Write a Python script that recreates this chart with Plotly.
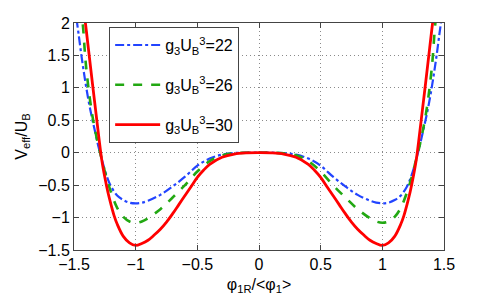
import plotly.graph_objects as go

# g3*UB^3 = 22 (blue dash-dot)
x22 = [-1.48, -1.46, -1.44, -1.42, -1.40, -1.375, -1.35, -1.325, -1.30, -1.275, -1.25, -1.225, -1.20, -1.15, -1.10, -1.05, -1.00,
       -0.95, -0.90, -0.80, -0.70, -0.60, -0.50, -0.40, -0.30, -0.20, -0.10, 0.00,
       0.10, 0.20, 0.30, 0.40, 0.50, 0.60, 0.70, 0.80, 0.90, 0.95,
       1.00, 1.05, 1.10, 1.15, 1.20, 1.225, 1.25, 1.275, 1.30, 1.325, 1.35, 1.375, 1.40, 1.42, 1.44, 1.46, 1.48]
y22 = [2.07, 1.79, 1.50, 1.24, 1.00, 0.73, 0.50, 0.29, 0.08, -0.10, -0.27, -0.41, -0.52, -0.66, -0.73, -0.77, -0.78,
       -0.77, -0.74, -0.65, -0.52, -0.37, -0.20, -0.09, -0.03, -0.005, 0.0, 0.0,
       0.0, -0.005, -0.03, -0.09, -0.20, -0.37, -0.52, -0.65, -0.74, -0.77,
       -0.78, -0.77, -0.73, -0.66, -0.52, -0.41, -0.27, -0.10, 0.08, 0.29, 0.50, 0.73, 1.00, 1.24, 1.50, 1.79, 2.07]

# g3*UB^3 = 26 (green dashed)
x26 = [-1.45, -1.43, -1.41, -1.40, -1.375, -1.35, -1.325, -1.30, -1.275, -1.25, -1.225, -1.20, -1.15, -1.10, -1.05, -1.00,
       -0.95, -0.90, -0.80, -0.70, -0.60, -0.50, -0.40, -0.30, -0.20, -0.10, 0.00,
       0.10, 0.20, 0.30, 0.40, 0.50, 0.60, 0.70, 0.80, 0.90, 0.95,
       1.00, 1.05, 1.10, 1.15, 1.20, 1.225, 1.25, 1.275, 1.30, 1.325, 1.35, 1.375, 1.40, 1.41, 1.43, 1.45]
y26 = [2.25, 2.00, 1.50, 1.29, 0.88, 0.56, 0.31, 0.09, -0.10, -0.29, -0.46, -0.61, -0.85, -0.99, -1.06, -1.08,
       -1.06, -1.01, -0.87, -0.69, -0.50, -0.29, -0.13, -0.04, -0.01, 0.0, 0.0,
       0.0, -0.01, -0.04, -0.13, -0.29, -0.50, -0.69, -0.87, -1.01, -1.06,
       -1.08, -1.06, -0.99, -0.85, -0.61, -0.46, -0.29, -0.10, 0.09, 0.31, 0.56, 0.88, 1.29, 1.50, 2.00, 2.25]

# g3*UB^3 = 30 (red solid)
x30 = [-1.42, -1.40, -1.375, -1.35, -1.325, -1.30, -1.275, -1.25, -1.225, -1.20, -1.175, -1.15, -1.10, -1.05, -1.00,
       -0.95, -0.90, -0.85, -0.80, -0.75, -0.70, -0.65, -0.60, -0.55, -0.50, -0.45, -0.40, -0.30, -0.20, -0.10, 0.00,
       0.10, 0.20, 0.30, 0.40, 0.45, 0.50, 0.55, 0.60, 0.65, 0.70, 0.75, 0.80, 0.85, 0.90, 0.95,
       1.00, 1.05, 1.10, 1.15, 1.175, 1.20, 1.225, 1.25, 1.275, 1.30, 1.325, 1.35, 1.375, 1.40, 1.42]
y30 = [2.20, 1.88, 1.47, 1.06, 0.66, 0.26, -0.11, -0.38, -0.61, -0.80, -0.97, -1.10, -1.29, -1.39, -1.43,
       -1.40, -1.35, -1.27, -1.18, -1.07, -0.94, -0.80, -0.66, -0.52, -0.38, -0.27, -0.18, -0.07, -0.02, -0.003, 0.0,
       -0.003, -0.02, -0.07, -0.18, -0.27, -0.38, -0.52, -0.66, -0.80, -0.94, -1.07, -1.18, -1.27, -1.35, -1.40,
       -1.43, -1.39, -1.29, -1.10, -0.97, -0.80, -0.61, -0.38, -0.11, 0.26, 0.66, 1.06, 1.47, 1.88, 2.20]

names = ["g<sub>3</sub>U<sub>B</sub><sup>3</sup>=22",
         "g<sub>3</sub>U<sub>B</sub><sup>3</sup>=26",
         "g<sub>3</sub>U<sub>B</sub><sup>3</sup>=30"]
x_ticks = [-1.5, -1, -0.5, 0, 0.5, 1, 1.5]
x_tick_labels = ["\u22121.5", "\u22121", "\u22120.5", "0", "0.5", "1", "1.5"]
y_ticks = [-1.5, -1, -0.5, 0, 0.5, 1, 1.5, 2]
y_tick_labels = ["\u22121.5", "\u22121", "\u22120.5", "0", "0.5", "1", "1.5", "2"]

font = "Liberation Sans, Arial, sans-serif"

fig = go.Figure()
fig.add_trace(go.Scatter(x=x22, y=y22, mode="lines", name=names[0], legendgroup="a",
                         line=dict(color="#2244ff", width=2.2, dash="dashdot", shape="spline")))
fig.add_trace(go.Scatter(x=x26, y=y26, mode="lines", name=names[1], legendgroup="b",
                         line=dict(color="#22a812", width=2.6, dash="dash", shape="spline")))
fig.add_trace(go.Scatter(x=x30, y=y30, mode="lines", name=names[2], legendgroup="c",
                         line=dict(color="#ff0000", width=2.8, shape="spline")))

axis_common = dict(showline=True, linecolor="#444444", linewidth=1, mirror="ticks",
                   ticks="inside", ticklen=5, tickcolor="#444444",
                   showgrid=True, gridcolor="#8a8a8a", griddash="1px,3px", gridwidth=1,
                   zeroline=False, automargin=False,
                   tickfont=dict(family=font, size=16, color="black"))

fig.update_layout(
    width=491, height=304,
    margin=dict(l=74, r=47, t=23, b=54),
    paper_bgcolor="white", plot_bgcolor="white",
    font=dict(family=font, size=16, color="black"),
    xaxis=dict(range=[-1.5, 1.5], tickvals=x_ticks, ticktext=x_tick_labels,
               title=dict(text="\u03c6<sub>1R</sub>/&lt;\u03c6<sub>1</sub>&gt;", font=dict(family=font, size=16), standoff=6),
               **axis_common),
    yaxis=dict(range=[-1.5, 2], tickvals=y_ticks, ticktext=y_tick_labels,
               title=dict(text="V<sub>eff</sub>/U<sub>B</sub>", font=dict(family=font, size=16), standoff=6),
               **axis_common),
    legend=dict(x=0.095, y=0.982, xanchor="left", yanchor="top",
                bgcolor="white", bordercolor="#444444", borderwidth=1,
                font=dict(family=font, size=16, color="black"),
                tracegroupgap=16, itemwidth=45),
    showlegend=True,
)

fig.write_html("out.html", config={"displayModeBar": False},
               post_script="document.body.style.margin='0';document.body.style.overflow='hidden';")
